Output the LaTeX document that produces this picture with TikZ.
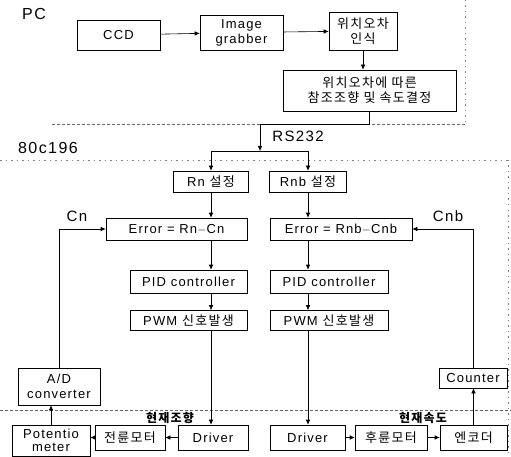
\documentclass[tikz,border=0pt]{standalone}
\usepackage{fontspec}
\setmainfont{Liberation Sans}[LetterSpace=9]
\newfontfamily\kr{Noto Sans CJK KR}[LetterSpace=10]
\usetikzlibrary{arrows.meta}
\begin{document}
\begin{tikzpicture}[x=1pt,y=-1pt,
  box/.style={draw, line width=0.6pt, inner sep=0pt, align=center,
    font=\fontsize{13}{15}\selectfont},
  lbl/.style={inner sep=0pt, font=\fontsize{13}{15}\selectfont},
  big/.style={inner sep=0pt, font=\fontsize{16}{18}\selectfont},
  conn/.style={line width=0.6pt},
  arr/.style={line width=0.6pt, -{Latex[length=5pt,width=4.5pt]}},
  bnddot/.style={line width=0.6pt, gray, dash pattern=on 1.5pt off 4pt},
  bnddash/.style={line width=0.6pt, gray!80!black, dash pattern=on 3pt off 2pt}]
\useasboundingbox (0,0) rectangle (511,457);
\clip (0,0) rectangle (511,457);
% boundaries
\draw[bnddot] (465,0) -- (465,124);
\draw[bnddash] (52,124) -- (465,124);
\draw[bnddot] (0,160) -- (511,160);
\draw[bnddot] (508,160) -- (508,457);
\draw[bnddash] (0,410) -- (511,410);
% PC part
\node[big] (pc) at (34,14) {PC};
\node[box, minimum width=83, minimum height=30] (ccd) at (118.5,35) {CCD};
\node[box, minimum width=83, minimum height=35] (grab) at (241.5,32.5) {Image\\grabber};
\node[box, minimum width=68, minimum height=38] (pos) at (363,31) {\kr 위치오차\\\kr 인식};
\node[box, minimum width=173, minimum height=41] (ref) at (369.5,90.5) {\kr 위치오차에 따른\\\kr 참조조향 및 속도결정};
\draw[arr] (ccd) -- (grab);
\draw[arr] (grab) -- (pos);
\draw[arr] (pos.south) -- (pos.south |- ref.north);
% RS232
\coordinate (bend) at (260,124);
\coordinate (sp) at (260,151);
\coordinate (spl) at (211,151);
\coordinate (spr) at (308,151);
\draw[arr] (ref.south) |- (bend) -- (sp);
\node[big, font=\fontsize{15}{17}\selectfont] (rs) at (298,136) {RS232};
\node[big] (mc) at (48,148) {80c196};
\draw[conn] (spl) -- (spr);
% 80c196 part
\node[box, minimum width=75, minimum height=21] (rn) at (211,181.5) {Rn {\kr 설정}};
\node[box, minimum width=77, minimum height=21] (rnb) at (308,181.5) {Rnb {\kr 설정}};
\draw[arr] (spl) -- (rn);
\draw[arr] (spr) -- (rnb);
\node[box, minimum width=141, minimum height=22] (errL) at (176.5,229) {Error = Rn$-$Cn};
\node[box, minimum width=142, minimum height=22] (errR) at (341,229) {Error = Rnb$-$Cnb};
\node[box, minimum width=117, minimum height=23] (pidL) at (188.5,281.5) {PID controller};
\node[box, minimum width=118, minimum height=23] (pidR) at (329,281.5) {PID controller};
\node[box, minimum width=117, minimum height=20] (pwmL) at (188.5,320.5) {PWM {\kr 신호발생}};
\node[box, minimum width=118, minimum height=20] (pwmR) at (329,320.5) {PWM {\kr 신호발생}};
\draw[arr] (rn.south) -- (rn |- errL.north);
\draw[arr] (rnb.south) -- (rnb |- errR.north);
\draw[arr] (rn |- errL.south) -- (rn |- pidL.north);
\draw[arr] (rnb |- errR.south) -- (rnb |- pidR.north);
\draw[arr] (rn |- pidL.south) -- (rn |- pwmL.north);
\draw[arr] (rnb |- pidR.south) -- (rnb |- pwmR.north);
\node[box, minimum width=82, minimum height=37] (ad) at (59,386.5) {A/D\\converter};
\node[box, minimum width=68, minimum height=20] (cnt) at (473,378) {Counter};
% plant part
\node[box, minimum width=78, minimum height=31, font=\fontsize{13}{13}\selectfont] (pot) at (51,440.5) {Potentio\\meter};
\node[box, minimum width=70, minimum height=25] (mfl) at (130,437.5) {\kr 전륜모터};
\node[box, minimum width=70, minimum height=25] (drvL) at (213,437.5) {Driver};
\node[box, minimum width=75, minimum height=25] (drvR) at (307.5,437.5) {Driver};
\node[box, minimum width=72, minimum height=25] (mrr) at (391,437.5) {\kr 후륜모터};
\node[box, minimum width=67, minimum height=25] (enc) at (473.5,437.5) {\kr 엔코더};
\node[lbl, font=\kr\bfseries\fontsize{12}{14}\selectfont] (cur1) at (170,418) {현재조향};
\node[lbl, font=\kr\bfseries\fontsize{12}{14}\selectfont] (cur2) at (423,418) {현재속도};
\node[lbl, font=\fontsize{15}{17}\selectfont] (cn) at (77,216) {Cn};
\node[lbl, font=\fontsize{15}{17}\selectfont] (cnb) at (448,216) {Cnb};
\draw[arr] (rn |- pwmL.south) -- (rn |- drvL.north);
\draw[arr] (rnb |- pwmR.south) -- (rnb |- drvR.north);
\draw[arr] (drvL.west) -- (mfl.east);
\draw[arr] (mfl.west) -- (mfl.west -| pot.east);
\draw[arr] (pot.north) -- (pot.north |- ad.south);
\draw[arr] (ad.north) |- (errL.west);
\draw[arr] (drvR.east) -- (mrr.west);
\draw[arr] (mrr.east) -- (enc.west);
\draw[arr] (enc.north) -- (enc.north |- cnt.south);
\draw[arr] (cnt.north) |- (errR.east);
\end{tikzpicture}
\end{document}
